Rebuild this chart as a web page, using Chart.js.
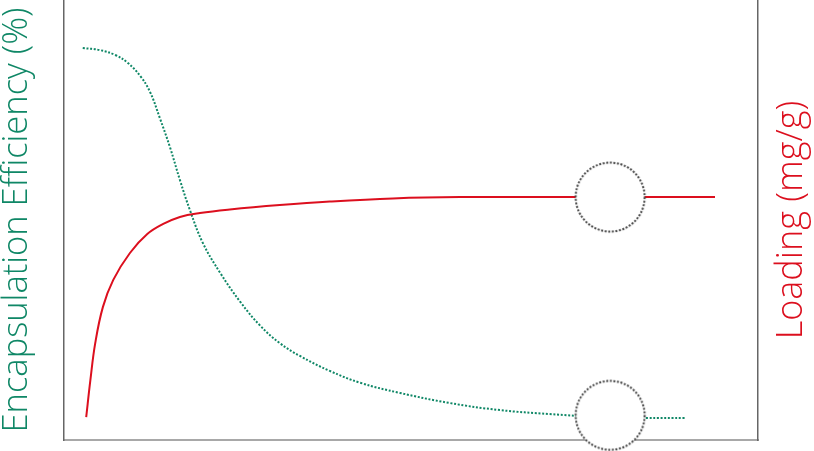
<!DOCTYPE html>
<html>
<head>
<meta charset="utf-8">
<script src="https://cdn.jsdelivr.net/npm/chart.js@4/dist/chart.umd.min.js"></script>
<style>
  html, body { margin: 0; padding: 0; background: #fff; }
  #wrap { width: 814px; height: 451px; position: relative; }
</style>
</head>
<body>
<div id="wrap"><canvas id="chart"></canvas></div>
<script>
// Encapsulation efficiency curve (green, dotted)
const effX = [2.7, 5.2, 7.4, 9.2, 11.0, 12.4, 13.8, 15.3, 16.7, 18.2, 20.0, 22.5, 25.4, 28.2, 31.1, 34.0, 38.3, 42.7, 48.4, 55.6, 62.8, 70.0, 77.2, 83.7, 89.6];
const effY = [89.1, 88.6, 87.5, 85.7, 82.7, 79.1, 73.2, 66.4, 59.1, 52.0, 44.8, 38.0, 31.4, 26.1, 22.0, 19.1, 15.7, 13.0, 10.7, 8.4, 6.8, 5.9, 5.2, 5.0, 5.0];

// Loading curve (red, solid)
const loadX = [3.2, 3.8, 4.5, 5.6, 7.1, 9.5, 12.0, 14.3, 16.7, 19.6, 23.9, 31.1, 38.3, 47.4, 57.1, 73.3, 93.8];
const loadY = [5.2, 13.6, 22.0, 30.2, 36.4, 42.5, 46.8, 49.1, 50.7, 51.6, 52.4, 53.4, 54.2, 54.9, 55.2, 55.2, 55.2];

// highlighted plateau points (dotted circles)
const markX = [78.7, 78.7];
const markY = [55.2, 5.6];

const GREEN = '#0f8766';
const RED = '#dc0f1e';
const FONT = "'Open Sans', sans-serif";

// dotted, white-filled ring used as point style
function ringImage() {
  const c = document.createElement('canvas');
  c.width = 74; c.height = 74;
  const g = c.getContext('2d');
  g.beginPath();
  g.arc(37, 37, 34.5, 0, Math.PI * 2);
  g.fillStyle = '#fff';
  g.fill();
  g.setLineDash([2, 1.6]);
  g.lineWidth = 2;
  g.strokeStyle = '#444';
  g.stroke();
  return c;
}
const ring = ringImage();

const rightTitle = {
  id: 'rightTitle',
  afterDraw(chart) {
    const { ctx, chartArea } = chart;
    ctx.save();
    ctx.translate(chartArea.right + 34, (chartArea.top + chartArea.bottom) / 2);
    ctx.rotate(-Math.PI / 2);
    ctx.font = `300 36px ${FONT}`;
    ctx.fillStyle = RED;
    ctx.textAlign = 'center';
    ctx.textBaseline = 'middle';
    ctx.fillText('Loading (mg/g)', 0, 0);
    ctx.restore();
  }
};

new Chart(document.getElementById('chart'), {
  type: 'scatter',
  data: {
    datasets: [
      {
        label: 'marks',
        data: markX.map((x, i) => ({ x, y: markY[i] })),
        pointStyle: ring,
        pointRadius: 35,
        showLine: false,
        clip: false,
        yAxisID: 'y'
      },
      {
        label: 'Loading',
        data: loadX.map((x, i) => ({ x, y: loadY[i] })),
        showLine: true,
        borderColor: RED,
        borderWidth: 2,
        pointRadius: 0,
        tension: 0.4,
        yAxisID: 'y1'
      },
      {
        label: 'Encapsulation Efficiency',
        data: effX.map((x, i) => ({ x, y: effY[i] })),
        showLine: true,
        borderColor: GREEN,
        borderWidth: 2,
        borderDash: [2, 1.7],
        pointRadius: 0,
        tension: 0.4,
        yAxisID: 'y'
      }
    ]
  },
  options: {
    responsive: true, maintainAspectRatio: false,
    animation: false,
    layout: { autoPadding: false, padding: { top: 0, right: 56, bottom: 11, left: 0 } },
    plugins: { legend: { display: false }, tooltip: { enabled: false } },
    scales: {
      x: {
        type: 'linear', min: 0, max: 100,
        ticks: { display: false },
        grid: { display: false, drawTicks: false },
        border: { color: '#a8a8a8', width: 2 }
      },
      y: {
        position: 'left', min: 0, max: 100,
        ticks: { display: false },
        grid: { display: false, drawTicks: false },
        border: { color: '#666', width: 1.5 },
        title: {
          display: true,
          text: 'Encapsulation Efficiency (%)',
          color: GREEN,
          font: { family: FONT, size: 34.5, weight: 300, lineHeight: 1 },
          padding: { top: 0, bottom: 29.5 }
        }
      },
      y1: {
        position: 'right', min: 0, max: 100,
        ticks: { display: false },
        grid: { display: false, drawTicks: false },
        border: { color: '#666', width: 1.5 }
      }
    }
  },
  plugins: [rightTitle]
});
</script>
</body>
</html>
